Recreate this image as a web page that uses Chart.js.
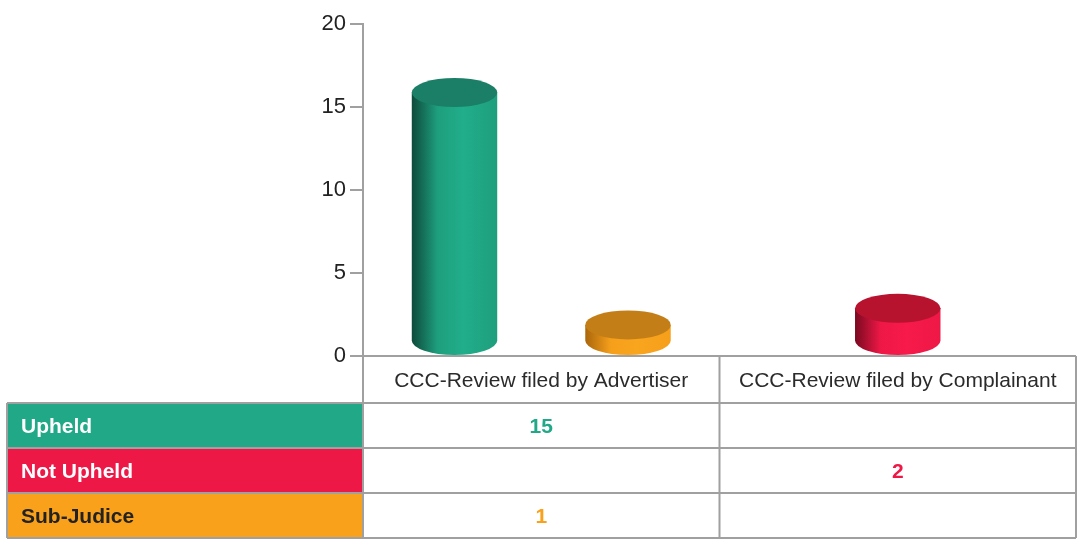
<!DOCTYPE html>
<html>
<head>
<meta charset="utf-8">
<script src="https://cdn.jsdelivr.net/npm/chart.js@4"></script>
<style>
  html, body { margin: 0; padding: 0; background: #fff; }
  canvas { display: block; }
</style>
</head>
<body>
<canvas id="reviewChart" width="1081" height="545"></canvas>
<script>
// CCC review outcomes
const categories = ['CCC-Review filed by Advertiser', 'CCC-Review filed by Complainant'];
const seriesNames = ['Upheld', 'Not Upheld', 'Sub-Judice'];
const upheld = [15, null];
const notUpheld = [null, 2];
const subJudice = [1, null];
const yTicks = [0, 5, 10, 15, 20];

const seriesValues = [upheld, notUpheld, subJudice];

// cylinder shading + table colours per series
const palette = [
  { dark: '#0e4a3b', light: '#21ae8a', edge: '#1e9e7d', top: '#1a7f66', cell: '#20a887', label: '#ffffff' },
  { dark: '#7a0920', light: '#f71a4b', edge: '#ee1846', top: '#b7132f', cell: '#ee1846', label: '#ffffff' },
  { dark: '#a9660b', light: '#faa51e', edge: '#f59f1b', top: '#c47e17', cell: '#f9a11b', label: '#222222' }
];

const FONT = "'Liberation Sans', Arial, sans-serif";
const LINE = '#a0a0a0';

// Draw each bar as a 3D cylinder using the bar element geometry
const cylinderPlugin = {
  id: 'cylinders',
  afterDatasetsDraw(chart) {
    const ctx = chart.ctx;
    chart.data.datasets.forEach((ds, i) => {
      const meta = chart.getDatasetMeta(i);
      const shade = palette[i];
      meta.data.forEach((bar, j) => {
        if (ds.data[j] == null) return;
        const rx = bar.width / 2;
        const ry = 14.5;
        const cx = bar.x;
        const top = bar.y - ry;
        const bottom = bar.base - ry;

        ctx.save();
        const grad = ctx.createLinearGradient(cx - rx, 0, cx + rx, 0);
        grad.addColorStop(0, shade.dark);
        grad.addColorStop(0.3, shade.edge);
        grad.addColorStop(0.6, shade.light);
        grad.addColorStop(1, shade.edge);
        ctx.fillStyle = grad;
        ctx.beginPath();
        ctx.moveTo(cx - rx, top);
        ctx.lineTo(cx - rx, bottom);
        ctx.ellipse(cx, bottom, rx, ry, 0, Math.PI, 0, true);
        ctx.lineTo(cx + rx, top);
        ctx.closePath();
        ctx.fill();

        ctx.fillStyle = shade.top;
        ctx.beginPath();
        ctx.ellipse(cx, top, rx, ry, 0, 0, Math.PI * 2);
        ctx.fill();
        ctx.restore();
      });
    });
  }
};

// Data table under the plot: category header row + one row per series
const tablePlugin = {
  id: 'dataTable',
  afterDraw(chart) {
    const { ctx, chartArea, scales: { x } } = chart;
    const colW = (chartArea.right - chartArea.left) / categories.length;
    const headTop = chartArea.bottom;
    const headH = 47;
    const rowH = 45;
    const tableLeft = 7;
    const tableBottom = headTop + headH + rowH * seriesNames.length;

    ctx.save();
    ctx.textBaseline = 'middle';
    // row header cells
    seriesNames.forEach((name, i) => {
      const y0 = headTop + headH + rowH * i;
      ctx.fillStyle = palette[i].cell;
      ctx.fillRect(tableLeft, y0, chartArea.left - tableLeft, rowH);
      ctx.fillStyle = palette[i].label;
      ctx.font = 'bold 21px ' + FONT;
      ctx.textAlign = 'left';
      ctx.fillText(name, tableLeft + 14, y0 + rowH / 2 + 2);
    });

    // category labels
    ctx.fillStyle = '#2b2b2b';
    ctx.font = '21px ' + FONT;
    ctx.textAlign = 'center';
    categories.forEach((c, j) => {
      ctx.fillText(c, x.getPixelForValue(j), headTop + headH / 2 + 2);
    });

    // values
    ctx.font = 'bold 21px ' + FONT;
    seriesValues.forEach((vals, i) => {
      vals.forEach((v, j) => {
        if (v == null) return;
        ctx.fillStyle = palette[i].cell;
        ctx.fillText(String(v), x.getPixelForValue(j), headTop + headH + rowH * i + rowH / 2 + 2);
      });
    });

    // grid lines
    ctx.strokeStyle = LINE;
    ctx.lineWidth = 2;
    ctx.beginPath();
    ctx.moveTo(chartArea.left, headTop);
    ctx.lineTo(chartArea.right, headTop);
    for (let r = 0; r <= seriesNames.length; r++) {
      const y = headTop + headH + rowH * r;
      ctx.moveTo(tableLeft, y);
      ctx.lineTo(chartArea.right, y);
    }
    ctx.moveTo(tableLeft, headTop + headH);
    ctx.lineTo(tableLeft, tableBottom);
    for (let c = 0; c <= categories.length; c++) {
      const xx = chartArea.left + colW * c;
      ctx.moveTo(xx, headTop);
      ctx.lineTo(xx, tableBottom);
    }
    ctx.stroke();
    ctx.restore();
  }
};

new Chart(document.getElementById('reviewChart'), {
  type: 'bar',
  data: {
    labels: categories,
    datasets: seriesNames.map((name, i) => ({
      label: name,
      data: seriesValues[i],
      backgroundColor: 'rgba(0,0,0,0)',
      categoryPercentage: 0.73,
      barPercentage: 0.985
    }))
  },
  options: {
    responsive: false,
    animation: false,
    layout: { padding: { top: 24, right: 5, bottom: 189, left: 0 } },
    plugins: {
      legend: { display: false },
      tooltip: { enabled: false }
    },
    scales: {
      x: { display: false },
      y: {
        min: 0,
        max: 20,
        afterBuildTicks: s => { s.ticks = yTicks.map(v => ({ value: v })); },
        afterFit: s => { s.width = 363; },
        ticks: { font: { family: FONT, size: 22 }, color: '#222222', padding: 4 },
        grid: { drawOnChartArea: false, drawTicks: true, tickLength: 13, color: LINE, lineWidth: 2 },
        border: { color: LINE, width: 2 }
      }
    }
  },
  plugins: [cylinderPlugin, tablePlugin]
});
</script>
</body>
</html>
